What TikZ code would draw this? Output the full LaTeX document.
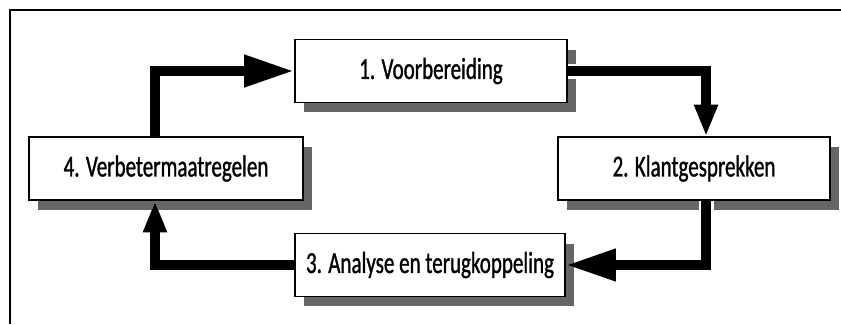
\documentclass[tikz,border=0pt]{standalone}
\usepackage{fontspec}
\usetikzlibrary{arrows.meta, positioning, shadows}
\newfontfamily\boxfont[FakeStretch=0.69, FakeBold=1]{Carlito}

\begin{document}
\begin{tikzpicture}[
    x=0.03cm, y=-0.03cm,
    stage/.style={draw, line width=1.4pt, fill=white, minimum width=8.16cm, minimum height=1.88cm, inner sep=0pt,
        font=\boxfont\fontsize{26}{30}\selectfont,
        drop shadow={shadow xshift=0.27cm, shadow yshift=-0.3cm, fill=black!60, opacity=1}},
    hflow/.style={line width=0.3cm, -{Triangle[length=1.5cm, width=0.9cm]},
        preaction={draw=white, line width=0.45cm}},
    vflow/.style={line width=0.3cm, -{Triangle[length=0.95cm, width=0.66cm]},
        preaction={draw=white, line width=0.45cm}},
]

\useasboundingbox (0, 0) rectangle (841, 324);

% Frame
\draw[line width=1.5pt] (10, 324) -- (10, 10) -- (841, 10);

% Stages
\node[stage] (voorb) at (431, 71) {1. Voorbereiding};
\node[stage] (klant) at (694, 168.5) {2. Klantgesprekken};
\node[stage, minimum width=8.1cm] (analyse) at (430, 265) {3. Analyse en terugkoppeling};
\node[stage, minimum width=8.22cm] (verbeter) at (166, 168.5) {4. Verbetermaatregelen};

% Cycle
\draw[hflow] ([xshift=-0.33cm]verbeter.north) |- (voorb.west);
\draw[vflow] (voorb.east) -| ([xshift=0.36cm]klant.north);
\draw[hflow] ([xshift=0.36cm]klant.south) |- (analyse.east);
\draw[vflow] (analyse.west) -| ([xshift=-0.33cm]verbeter.south);

\end{tikzpicture}
\end{document}
